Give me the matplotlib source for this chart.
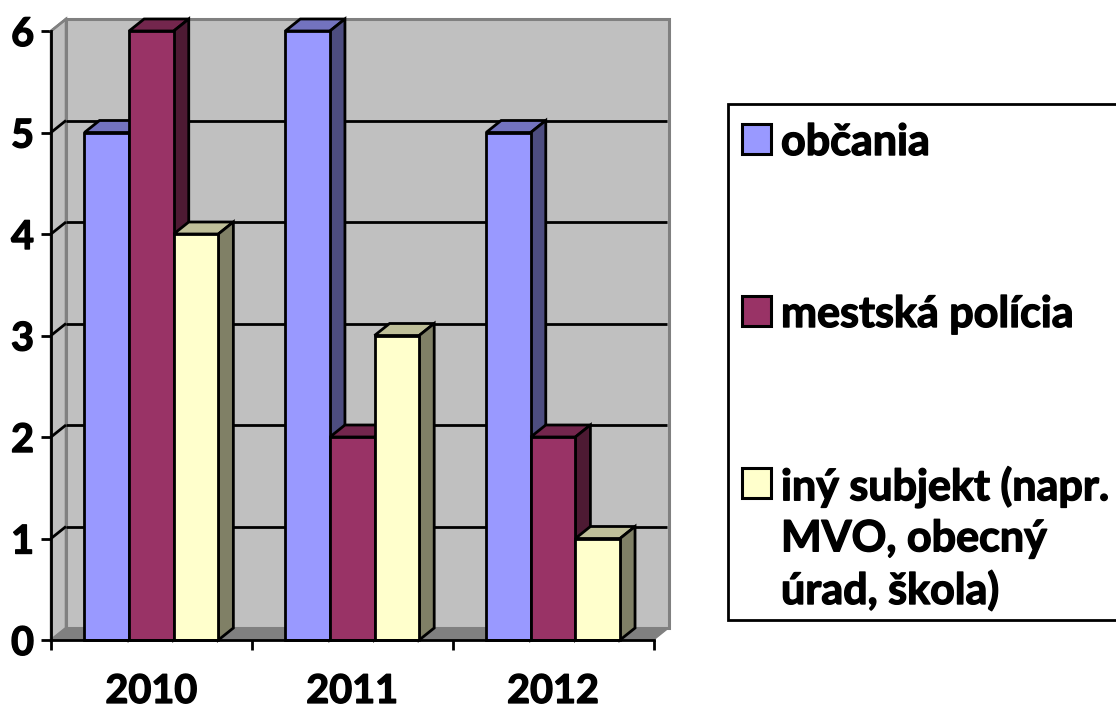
import matplotlib
matplotlib.use("Agg")
import matplotlib.pyplot as plt
import matplotlib.patheffects as pe
from matplotlib.patches import Polygon, Rectangle

plt.rcParams['font.family'] = ['Lato', 'DejaVu Sans']

years = ['2010', '2011', '2012']
series_names = ['občania', 'mestská polícia', 'iný subjekt (napr.\nMVO, obecný\núrad, škola)']
obcania = [5, 6, 5]
policia = [6, 2, 2]
iny = [4, 3, 1]
series = [obcania, policia, iny]
front_colors = ['#9999FF', '#993366', '#FFFFCC']
top_colors = ['#7373BF', '#73264D', '#BFBF99']
side_colors = ['#4D4D80', '#4D1A33', '#808066']
yticks = [0, 1, 2, 3, 4, 5, 6]

W, H = 1116, 708
fig = plt.figure(figsize=(W / 100, H / 100), dpi=100)
L, R, B, T = 51, 653.5, 640, 31
ax = fig.add_axes([L / W, 1 - B / H, (R - L) / W, (B - T) / H])
ax.set_xlim(0, 3)
ax.set_ylim(0, 6)
ax.patch.set_visible(False)
for s in ['top', 'right']:
    ax.spines[s].set_visible(False)
for s in ['left', 'bottom']:
    ax.spines[s].set_linewidth(2.0)
    ax.spines[s].set_zorder(30)
    ax.spines[s].set_color('black')

dx = 15 / ((R - L) / 3)
dy = 12 / ((B - T) / 6)
heavy = [pe.withStroke(linewidth=1.0, foreground='black')]


def poly(pts, fc, ec='black', lw=2.0, z=5):
    ax.add_patch(Polygon(pts, closed=True, facecolor=fc, edgecolor=ec, linewidth=lw,
                         joinstyle='miter', clip_on=False, zorder=z))


GR = '#808080'
# walls and floor
poly([(0, 0), (dx, dy), (dx, 6 + dy), (0, 6)], '#C0C0C0', GR, 1.8, 1)
poly([(dx, dy), (3 + dx, dy), (3 + dx, 6 + dy), (dx, 6 + dy)], '#C0C0C0', GR, 2.2, 1)
poly([(0, 0), (3, 0), (3 + dx, dy), (dx, dy)], GR, GR, 1.0, 1)

# gridlines
for v in yticks[1:-1]:
    ax.plot([dx, 3 + dx - 0.005], [v + dy, v + dy], color='black', lw=2.0, clip_on=False, zorder=2,
            solid_capstyle='butt')
    ax.plot([0, dx], [v, v + dy], color='black', lw=2.0, clip_on=False, zorder=2,
            solid_capstyle='butt')
ax.plot([0, dx], [6, 6 + dy], color=GR, lw=1.8, clip_on=False, zorder=2)

# bars
bw = 1 / 4.5
margin = 0.75 * bw
z = 5
for g in range(len(years)):
    for i, vals in enumerate(series):
        x0 = g + margin + i * bw
        x1 = x0 + bw
        v = vals[g]
        poly([(x0, v), (x1, v), (x1 + dx, v + dy), (x0 + dx, v + dy)], top_colors[i], z=z)
        poly([(x1, 0), (x1 + dx, dy), (x1 + dx, v + dy), (x1, v)], side_colors[i], z=z)
        poly([(x0, 0), (x1, 0), (x1, v), (x0, v)], front_colors[i], z=z)
        z += 1

ax.set_xticks(range(4))
ax.set_xticklabels([])
ax.set_yticks(yticks)
ax.tick_params(axis='both', length=7.2, width=2.0, color='black', zorder=30)
ax.tick_params(axis='y', pad=5)
ax.set_yticklabels([str(v) for v in yticks], fontsize=28.5, fontweight='bold', color='black',
                   path_effects=heavy)
for g, y in enumerate(years):
    ax.text(g + 0.5, -0.62, y, ha='center', va='baseline', fontsize=28.5, fontweight='bold',
            color='black', clip_on=False, path_effects=heavy)


# legend, placed in figure pixels
def fx(p):
    return p / W


def fy(p):
    return 1 - p / H


fig.add_artist(Rectangle((fx(728), fy(619.5)), fx(1120) - fx(728), fy(103.5) - fy(619.5),
                         transform=fig.transFigure, facecolor='white', edgecolor='black', linewidth=2.0))
swatch_y = [124, 296, 468]
baseline_y = [155, 327, 604]
for name, c, sy, by in zip(series_names, front_colors, swatch_y, baseline_y):
    fig.add_artist(Rectangle((fx(741.5), fy(sy + 29.5)), fx(29.5), 29.5 / H, transform=fig.transFigure,
                             facecolor=c, edgecolor='black', linewidth=2.2))
    fig.text(fx(781), fy(by), name, ha='left', va='baseline', fontsize=31, fontweight='bold',
             color='black', linespacing=1.32, path_effects=heavy)

fig.savefig('out.png', dpi=100, facecolor='white')
